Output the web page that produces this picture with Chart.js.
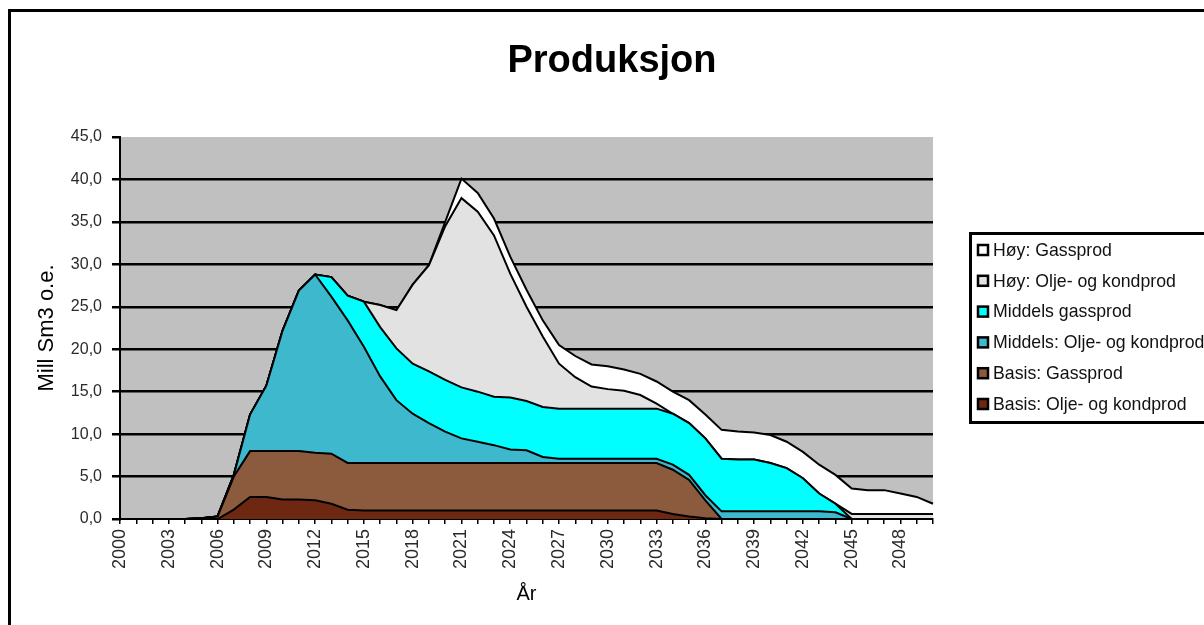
<!DOCTYPE html>
<html lang="no">
<head>
<meta charset="utf-8">
<title>Produksjon</title>
<script src="https://cdn.jsdelivr.net/npm/chart.js@4.4.1/dist/chart.umd.min.js"></script>
<style>
  html, body { margin: 0; padding: 0; background: #fff; }
  #wrap { width: 1204px; height: 625px; }
</style>
</head>
<body>
<div id="wrap"><canvas id="c" width="1204" height="625"></canvas></div>
<script>
// Years on the category axis
const years = [];
for (let y = 2000; y <= 2050; y++) years.push(String(y));

// Every third year carries a tick label
const labelStep = 3;

// Production per scenario, Mill Sm3 o.e. (stacked bottom to top)
const basisOlje = [
  0, 0, 0, 0, 0,
  0, 0, 1.1, 2.6, 2.6,
  2.3, 2.3, 2.2, 1.8, 1.1,
  1.0, 1.0, 1.0, 1.0, 1.0,
  1.0, 1.0, 1.0, 1.0, 1.0,
  1.0, 1.0, 1.0, 1.0, 1.0,
  1.0, 1.0, 1.0, 1.0, 0.6,
  0.3, 0.1, 0, 0, 0,
  0, 0, 0, 0, 0,
  0, 0, 0, 0, 0,
  0
];
const basisGass = [
  0, 0, 0, 0, 0,
  0.1, 0.3, 3.9, 5.4, 5.4,
  5.7, 5.7, 5.6, 5.9, 5.5,
  5.6, 5.6, 5.6, 5.6, 5.6,
  5.6, 5.6, 5.6, 5.6, 5.6,
  5.6, 5.6, 5.6, 5.6, 5.6,
  5.6, 5.6, 5.6, 5.6, 5.2,
  4.3, 2.1, 0, 0, 0,
  0, 0, 0, 0, 0,
  0, 0, 0, 0, 0,
  0
];
const middelsOlje = [
  0, 0, 0, 0, 0,
  0, 0, 0.2, 4.3, 7.7,
  14.2, 18.9, 21.0, 18.5, 16.8,
  13.7, 10.2, 7.4, 5.8, 4.7,
  3.7, 2.9, 2.5, 2.1, 1.6,
  1.5, 0.7, 0.5, 0.5, 0.5,
  0.5, 0.5, 0.5, 0.5, 0.6,
  0.6, 0.6, 0.9, 0.9, 0.9,
  0.9, 0.9, 0.9, 0.9, 0.8,
  0, 0, 0, 0, 0,
  0
];
const middelsGass = [
  0, 0, 0, 0, 0,
  0, 0, 0, 0, 0,
  0, 0, 0, 2.3, 2.9,
  5.3, 5.8, 6.1, 5.9, 6.1,
  6.1, 6.0, 5.9, 5.7, 6.1,
  5.8, 5.9, 5.9, 5.9, 5.9,
  5.9, 5.9, 5.9, 5.9, 6.0,
  6.1, 6.7, 6.2, 6.1, 6.1,
  5.7, 5.1, 3.9, 2.1, 1.0,
  0, 0, 0, 0, 0,
  0
];
const hoyOlje = [
  0, 0, 0, 0, 0,
  0, 0, 0, 0, 0,
  0, 0, 0, 0, 0,
  0, 2.6, 4.5, 9.3, 12.5,
  18.1, 22.3, 21.2, 19.0, 14.6,
  11.1, 8.3, 5.3, 3.7, 2.6,
  2.3, 2.1, 1.6, 0.6, 0,
  0, 0, 0, 0, 0,
  0, 0, 0, 0, 0,
  0.6, 0.6, 0.6, 0.6, 0.6,
  0.6
];
const hoyGass = [
  0, 0, 0, 0, 0,
  0, 0, 0, 0, 0,
  0, 0, 0, 0, 0,
  0, 0, 0, 0, 0,
  0.5, 2.3, 2.2, 2.0, 2.0,
  2.0, 1.9, 2.2, 2.5, 2.6,
  2.7, 2.5, 2.5, 2.6, 2.6,
  2.7, 2.8, 3.4, 3.3, 3.2,
  3.3, 3.1, 3.1, 3.4, 3.4,
  3.0, 2.8, 2.8, 2.4, 2.0,
  1.2
];

const FONT = "'Liberation Sans', Arial, sans-serif";

const series = [
  { label: 'Basis: Olje- og kondprod',   data: basisOlje,   color: '#6E2812' },
  { label: 'Basis: Gassprod',            data: basisGass,   color: '#8C5A3C' },
  { label: 'Middels: Olje- og kondprod', data: middelsOlje, color: '#3DB8CD' },
  { label: 'Middels gassprod',           data: middelsGass, color: '#00FFFF' },
  { label: 'Høy: Olje- og kondprod',     data: hoyOlje,     color: '#E2E2E2' },
  { label: 'Høy: Gassprod',              data: hoyGass,     color: '#FFFFFF' }
];

const datasets = series.map((s, i) => ({
  label: s.label,
  data: s.data,
  backgroundColor: s.color,
  borderColor: '#000',
  borderWidth: 2,
  fill: i === 0 ? 'origin' : '-1',
  pointRadius: 0,
  tension: 0
}));

// White page, outer frame, heading and grey plot area
const backdrop = {
  id: 'backdrop',
  beforeDraw(chart) {
    const { ctx, chartArea: a } = chart;
    ctx.save();
    ctx.fillStyle = '#fff';
    ctx.fillRect(0, 0, chart.width, chart.height);
    ctx.fillStyle = '#C0C0C0';
    ctx.fillRect(a.left, a.top, a.right - a.left, a.bottom - a.top);
    ctx.restore();
  },
  afterDraw(chart) {
    const { ctx } = chart;
    ctx.save();
    ctx.strokeStyle = '#000';
    ctx.lineWidth = 3;
    ctx.strokeRect(9.5, 10.5, 1400, 800);
    ctx.fillStyle = '#000';
    ctx.font = 'bold 38px ' + FONT;
    ctx.textAlign = 'center';
    ctx.textBaseline = 'alphabetic';
    ctx.fillText('Produksjon', 612, 72);
    ctx.restore();
  }
};

// Boxed legend, top series first
const boxLegend = {
  id: 'boxLegend',
  afterDraw(chart) {
    const { ctx } = chart;
    const items = chart.data.datasets.slice().reverse();
    ctx.save();
    ctx.lineWidth = 3;
    ctx.strokeStyle = '#000';
    ctx.fillStyle = '#fff';
    ctx.fillRect(970.5, 233.5, 300, 189);
    ctx.strokeRect(970.5, 233.5, 300, 189);
    ctx.font = '17.7px ' + FONT;
    ctx.textBaseline = 'middle';
    ctx.textAlign = 'left';
    items.forEach((ds, i) => {
      const y = 250 + i * 30.8;
      ctx.fillStyle = ds.backgroundColor;
      ctx.fillRect(978, y - 5, 10, 10);
      ctx.lineWidth = 2.5;
      ctx.strokeStyle = '#000';
      ctx.strokeRect(978, y - 5, 10, 10);
      ctx.fillStyle = '#111';
      ctx.fillText(ds.label, 993, y + 1);
    });
    ctx.restore();
  }
};

new Chart(document.getElementById('c'), {
  type: 'line',
  data: { labels: years, datasets },
  plugins: [backdrop, boxLegend],
  options: {
    responsive: false,
    animation: false,
    devicePixelRatio: 1,
    layout: { padding: { left: 20, right: 271, top: 137, bottom: 0 } },
    plugins: {
      legend: { display: false },
      title: { display: false },
      tooltip: { enabled: false },
      filler: { propagate: false }
    },
    scales: {
      x: {
        offset: false,
        grid: {
          display: true,
          drawOnChartArea: false,
          drawTicks: true,
          tickLength: 5,
          color: '#000',
          lineWidth: 1.5
        },
        border: { display: true, color: '#000', width: 2 },
        ticks: {
          autoSkip: false,
          maxRotation: 90,
          minRotation: 90,
          padding: 5,
          color: '#2a2a2a',
          font: { family: FONT, size: 18 },
          callback: (v, i) => (i % labelStep === 0 ? years[i] : '')
        },
        title: {
          display: true,
          text: 'År',
          color: '#000',
          font: { family: FONT, size: 20 },
          padding: { top: 4, bottom: 19 }
        },
        afterFit(scale) { scale.height = 106; }
      },
      y: {
        stacked: true,
        min: 0,
        max: 45,
        ticks: {
          stepSize: 5,
          padding: 10,
          color: '#2a2a2a',
          font: { family: FONT, size: 16 },
          callback: v => Number(v).toFixed(1).replace('.', ',')
        },
        grid: {
          color: c => (c.tick && (c.tick.value === 45 || c.tick.value === 0)) ? 'rgba(0,0,0,0)' : '#000',
          tickColor: '#000',
          lineWidth: 2.5,
          tickLength: 8
        },
        border: { display: true, color: '#000', width: 2 },
        title: {
          display: true,
          text: 'Mill Sm3 o.e.',
          color: '#000',
          font: { family: FONT, size: 22 },
          padding: { top: 14, bottom: 4 }
        },
        afterFit(scale) { scale.width = 100; }
      }
    }
  }
});
</script>
</body>
</html>
